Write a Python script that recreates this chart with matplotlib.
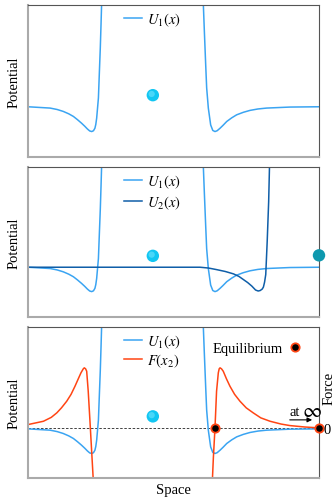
import numpy as np
import matplotlib
matplotlib.use('Agg')
import matplotlib.pyplot as plt
from matplotlib.lines import Line2D

plt.rcParams['font.family'] = ['Liberation Serif', 'DejaVu Serif']
plt.rcParams['mathtext.fontset'] = 'stix'
plt.rcParams['font.size'] = 10

# potential U1, left well
u1_left_x = [0.0, 0.76, 1.0, 1.21, 1.4, 1.56, 1.7, 1.84, 1.95, 2.04, 2.12, 2.19, 2.25, 2.30, 2.33,
             2.36, 2.42, 2.45, 2.485, 2.51, 2.53, 2.56]
u1_left_y = [0.0, -0.13, -0.27, -0.46, -0.7, -0.96, -1.28, -1.63, -1.93, -2.2, -2.4, -2.46, -2.38, -2.13,
             -1.75, -1.13, 0.87, 3.2, 5.87, 8.2, 10.2, 13.0]
# potential U1, right well
u1_right_x = [6.0, 6.025, 6.06, 6.106, 6.14, 6.197, 6.277, 6.35, 6.426, 6.5, 6.6, 6.7, 6.83, 7.0, 7.17,
              7.4, 7.63, 7.9, 8.2, 9.0, 10.0]
u1_right_y = [13.0, 10.2, 7.54, 4.2, 1.87, -0.13, -1.8, -2.35, -2.46, -2.38, -2.13, -1.85, -1.46, -1.1,
              -0.8, -0.55, -0.36, -0.22, -0.13, -0.03, 0.0]
# potential U2
u2_x = [0.0, 5.91, 6.2, 6.48, 6.78, 7.06, 7.25, 7.40, 7.55, 7.69, 7.82, 7.91, 7.98, 8.05, 8.09, 8.13,
        8.17, 8.22, 8.27, 8.30, 8.33]
u2_y = [0.0, 0.0, -0.08, -0.24, -0.43, -0.67, -0.93, -1.24, -1.55, -1.9, -2.3, -2.4, -2.35, -2.2, -2.0,
        -1.5, -0.74, 2.6, 6.6, 10.3, 13.0]
# force F(x2)
f_left_x = [0.0, 0.53, 0.8, 0.99, 1.15, 1.33, 1.48, 1.615, 1.72, 1.82, 1.90, 1.935, 1.98, 2.017, 2.07,
            2.13, 2.175, 2.22, 2.245]
f_left_y = [0.33, 0.66, 1.05, 1.5, 2.0, 2.66, 3.35, 4.16, 4.85, 5.5, 5.9, 6.0, 5.9, 5.66, 3.66, 0.66,
            -1.67, -4.0, -5.3]
f_right_x = [6.335, 6.37, 6.426, 6.48, 6.54, 6.57, 6.6, 6.65, 6.71, 6.82, 6.94, 7.1, 7.285, 7.5, 7.74,
             8.0, 8.32, 8.7, 9.0, 9.5, 10.0]
f_right_y = [-5.3, -3.0, 0.0, 3.66, 5.5, 5.9, 6.0, 5.9, 5.66, 4.9, 4.16, 3.35, 2.66, 2.0, 1.5, 1.0,
             0.66, 0.38, 0.23, 0.09, 0.0]

eq_x = [6.426, 10.0]
eq_y = [0.0, 0.0]
ball_x = 4.29
ball_y = 1.15
ball2_x = 10.0
ball2_y = 1.2

c_u1 = '#3aa4f2'
c_u2 = '#0f5ea8'
c_f = '#ff4514'
c_ball = '#12c6f2'
c_ball2 = '#0e98ae'

u1_x = u1_left_x + [np.nan] + u1_right_x
u1_y = u1_left_y + [np.nan] + u1_right_y
f_x = f_left_x + [np.nan] + f_right_x
f_y = f_left_y + [np.nan] + f_right_y

fig = plt.figure(figsize=(3.36, 5.02), dpi=100)
L, W = 0.0833, 0.8661
rects = [(L, 0.685, W, 0.303), (L, 0.367, W, 0.298), (L, 0.046, W, 0.301)]
axes = [fig.add_axes(r) for r in rects]

for ax in axes:
    ax.set_xlim(0, 10)
    ax.set_ylim(-5, 10.1)
    ax.set_xticks([])
    ax.set_yticks([])
    ax.spines['left'].set_color('#aaaaaa')
    ax.spines['bottom'].set_color('#aaaaaa')
    ax.spines['left'].set_linewidth(1.5)
    ax.spines['bottom'].set_linewidth(1.5)
    ax.spines['top'].set_color('#555555')
    ax.spines['right'].set_color('#555555')
    ax.set_ylabel('Potential', fontsize=10.5, labelpad=5)
    ax.scatter([ball_x], [ball_y], s=80, color=c_ball, edgecolors='none', zorder=5)
    ax.scatter([ball_x - 0.04], [ball_y + 0.12], s=20, color='#6fe3ff', edgecolors='none', zorder=6, alpha=0.6)

ax1, ax2, ax3 = axes

legkw = dict(loc='upper left', bbox_to_anchor=(0.29, 1.04), frameon=False, handlelength=1.2,
             handletextpad=0.4, fontsize=10.5, borderpad=0.3)

ax1.plot(u1_x, u1_y, color=c_u1, lw=1.1, label='$U_1(x)$')
ax1.legend(**legkw)

ax2.plot(u1_x, u1_y, color=c_u1, lw=1.1, label='$U_1(x)$')
ax2.plot(u2_x, u2_y, color=c_u2, lw=1.1, label='$U_2(x)$')
ax2.scatter([ball2_x], [ball2_y], s=80, color=c_ball2, edgecolors='none', zorder=5, clip_on=False)
ax2.legend(labelspacing=0.2, **legkw)

ax3.axhline(0, color='#222222', lw=0.6, ls=(0, (3, 2)))
ax3.plot(u1_x, [v - 0.1 for v in u1_y], color=c_u1, lw=1.1, label='$U_1(x)$')
ax3.plot(f_x, f_y, color=c_f, lw=1.1, label='$F(x_2)$')
ax3.plot(eq_x, eq_y, ls='none', marker='o', ms=6, mfc='black', mec=c_f, mew=1.3, zorder=6, clip_on=False)
leg = ax3.legend(labelspacing=0.1, **legkw)
ax3.add_artist(leg)
eq_handle = Line2D([], [], ls='none', marker='o', ms=6, mfc='black', mec=c_f, mew=1.3)
ax3.legend([eq_handle], ['Equilibrium'], loc='upper right', bbox_to_anchor=(0.982, 0.98), frameon=False,
           markerfirst=False, handletextpad=0.3, handlelength=1.0, fontsize=10.5, borderpad=0.3)
ax3.set_xlabel('Space', fontsize=10.5, labelpad=4)

ax3r = ax3.twinx()
ax3r.set_ylim(ax3.get_ylim())
ax3r.set_yticks([0])
ax3r.set_yticklabels(['0'])
ax3r.tick_params(axis='y', length=0, pad=3, labelsize=10.5)
ax3r.set_ylabel('Force', fontsize=10.5)
ax3r.yaxis.set_label_coords(1.013, 0.6)
for s in ax3r.spines.values():
    s.set_visible(False)

ax3.annotate('', xy=(9.86, 0.8), xytext=(8.9, 0.8),
             arrowprops=dict(arrowstyle='-|>', color='black', lw=0.8, mutation_scale=7))
ax3.text(9.35, 1.6, 'at', ha='right', va='center', fontsize=10.5)
ax3.text(9.4, 1.6, r'$\infty$', ha='left', va='center', fontsize=15)

plt.savefig('out.png', dpi=100)
